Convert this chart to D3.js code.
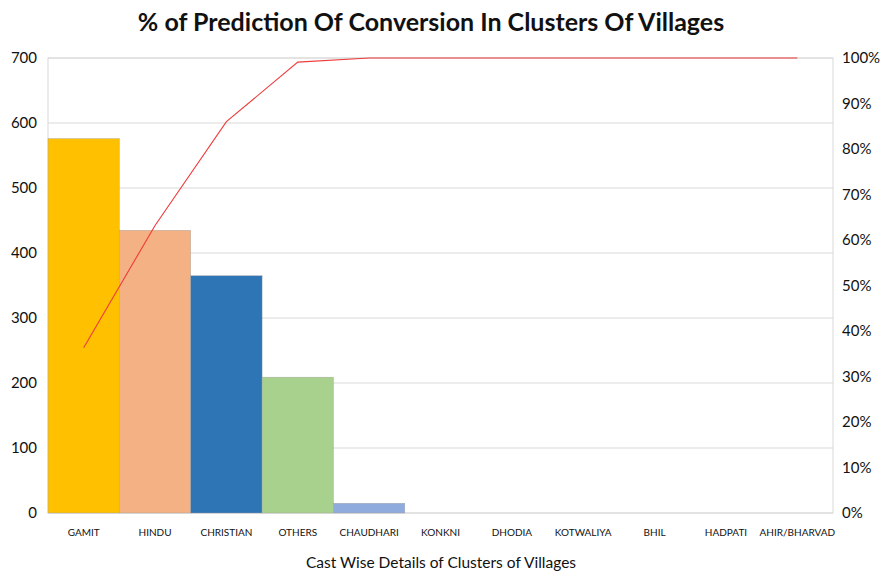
<!DOCTYPE html>
<html>
<head>
<meta charset="utf-8">
<script src="https://cdn.jsdelivr.net/npm/d3@7"></script>
<style>
  html, body { margin: 0; padding: 0; background: #fff; }
  svg { display: block; font-family: Lato, "Open Sans", sans-serif; }
</style>
</head>
<body>
<svg id="chart" width="884" height="572"></svg>
<script>
// Caste groups across the village clusters
const categories = ["GAMIT", "HINDU", "CHRISTIAN", "OTHERS", "CHAUDHARI", "KONKNI",
  "DHODIA", "KOTWALIYA", "BHIL", "HADPATI", "AHIR/BHARVAD"];
// Count per group
const counts = [576, 435, 365, 209, 15, 0, 0, 0, 0, 0, 0];
// Cumulative share (%) of the total, in the same order
const cumulativePct = [36.3, 63.2, 86.0, 99.1, 100, 100, 100, 100, 100, 100, 100];
const barColors = ["#FFC000", "#F4B183", "#2E75B6", "#A9D18E", "#8FAADC",
  "#8FAADC", "#8FAADC", "#8FAADC", "#8FAADC", "#8FAADC", "#8FAADC"];
const leftTicks = [0, 100, 200, 300, 400, 500, 600, 700];
const rightTicks = [0, 10, 20, 30, 40, 50, 60, 70, 80, 90, 100];

const svg = d3.select("#chart");
const m = { left: 48, right: 833, top: 58, bottom: 513 };

const x = d3.scaleBand().domain(categories).range([m.left, m.right]).padding(0);
const y = d3.scaleLinear().domain([0, 700]).range([m.bottom, m.top]);
const yPct = d3.scaleLinear().domain([0, 100]).range([m.bottom, m.top]);

// Title
svg.append("text")
  .attr("x", 431).attr("y", 31)
  .attr("text-anchor", "middle")
  .attr("font-size", 25).attr("font-weight", 700).attr("fill", "#111")
  .text("% of Prediction Of Conversion In Clusters Of Villages");

// Horizontal gridlines
svg.append("g").selectAll("line").data(leftTicks).join("line")
  .attr("x1", m.left).attr("x2", m.right)
  .attr("y1", d => y(d)).attr("y2", d => y(d))
  .attr("stroke", "#d9d9d9").attr("stroke-width", 1);

// Plot frame
svg.append("rect")
  .attr("x", m.left).attr("y", m.top)
  .attr("width", m.right - m.left).attr("height", m.bottom - m.top)
  .attr("fill", "none").attr("stroke", "#d9d9d9").attr("stroke-width", 1);

// Bars
svg.append("g").selectAll("rect").data(categories).join("rect")
  .attr("x", d => x(d))
  .attr("y", (d, i) => y(counts[i]))
  .attr("width", x.bandwidth())
  .attr("height", (d, i) => y(0) - y(counts[i]))
  .attr("fill", (d, i) => barColors[i])
  .attr("stroke", (d, i) => counts[i] > 0 ? "#a0a0a0" : "none")
  .attr("stroke-width", 0.4);

// Cumulative line
const line = d3.line()
  .x((d, i) => x(categories[i]) + x.bandwidth() / 2)
  .y(d => yPct(d));
svg.append("path")
  .datum(cumulativePct)
  .attr("d", line)
  .attr("fill", "none")
  .attr("stroke", "#EE3B3B")
  .attr("stroke-width", 1.1);

// Left axis labels
const leftAxis = svg.append("g").attr("transform", `translate(${m.left},0)`)
  .call(d3.axisLeft(y).tickValues(leftTicks).tickSize(0).tickPadding(11));
leftAxis.select(".domain").remove();
leftAxis.selectAll("text").attr("font-size", 15).attr("fill", "#111")
  .attr("font-family", "Lato, 'Open Sans', sans-serif");

// Right axis labels
const rightAxis = svg.append("g").attr("transform", `translate(${m.right},0)`)
  .call(d3.axisRight(yPct).tickValues(rightTicks).tickFormat(d => d + "%").tickSize(0).tickPadding(9));
rightAxis.select(".domain").remove();
rightAxis.selectAll("text").attr("font-size", 15).attr("fill", "#111")
  .attr("font-family", "Lato, 'Open Sans', sans-serif");

// Category labels
const bottomAxis = svg.append("g").attr("transform", `translate(0,${m.bottom})`)
  .call(d3.axisBottom(x).tickSize(0).tickPadding(16));
bottomAxis.select(".domain").remove();
bottomAxis.selectAll("text").attr("font-size", 10).attr("fill", "#111")
  .attr("font-family", "Lato, 'Open Sans', sans-serif");

// X axis title
svg.append("text")
  .attr("x", 441).attr("y", 568)
  .attr("text-anchor", "middle")
  .attr("font-size", 15.5).attr("fill", "#111")
  .text("Cast Wise Details of Clusters of Villages");
</script>
</body>
</html>
